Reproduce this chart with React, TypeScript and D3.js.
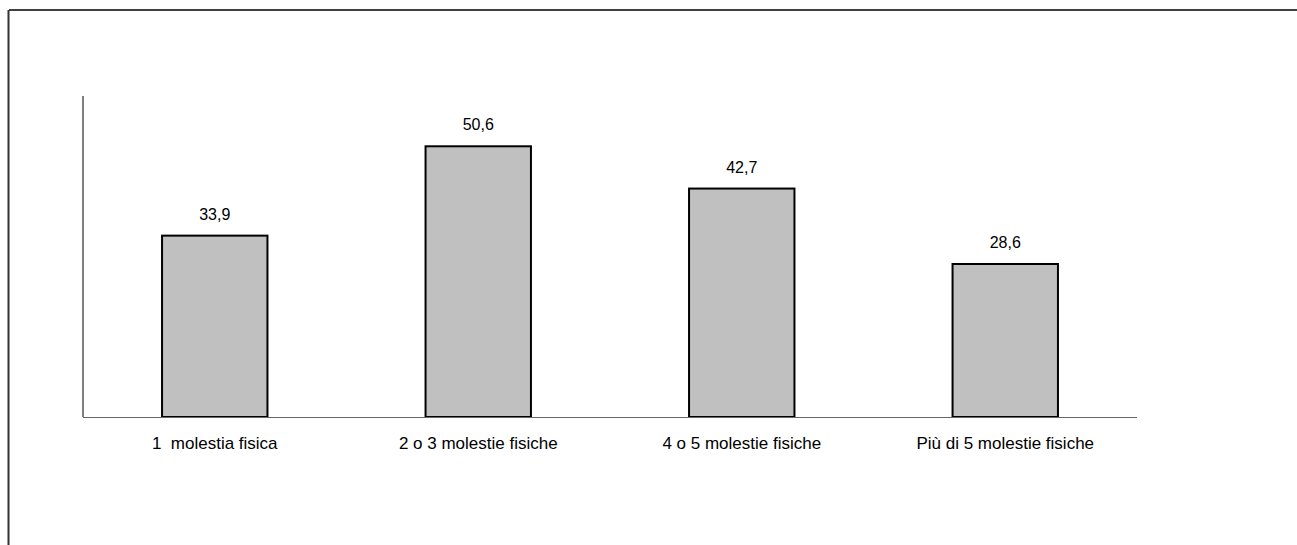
import React from "react";
import * as d3 from "d3";

const categories = ["1  molestia fisica", "2 o 3 molestie fisiche", "4 o 5 molestie fisiche", "Più di 5 molestie fisiche"];
const values = [33.9, 50.6, 42.7, 28.6];

export default function App() {
  const W = 1297, H = 545;
  const left = 83, right = 1137, top = 96, bottom = 417;
  const x = d3.scaleBand<string>().domain(categories).range([left, right]).paddingInner(0.6).paddingOuter(0.3);
  const y = d3.scaleLinear().domain([0, 60]).range([bottom, top]);
  const fmt = (v: number) => v.toFixed(1).replace(".", ",");
  return (
    <svg width={W} height={H} style={{ position: "absolute", left: 0, top: 0 }} fontFamily="Liberation Sans, Arial, sans-serif">
      <rect x={0} y={0} width={W} height={H} fill="#fff" />
      <line x1={9} y1={10} x2={W} y2={10} stroke="#000" strokeWidth={1.5} />
      <line x1={8.5} y1={10} x2={8.5} y2={H} stroke="#333" strokeWidth={2} />
      <line x1={left} y1={top} x2={left} y2={bottom} stroke="#000" strokeWidth={1} />
      {categories.map((c, i) => (
        <g key={c}>
          <rect x={x(c)!} y={y(values[i])} width={x.bandwidth()} height={bottom - y(values[i])} fill="#C0C0C0" stroke="#000" strokeWidth={2} />
          <text x={x(c)! + x.bandwidth() / 2} y={y(values[i]) - 16} textAnchor="middle" fontSize={16} fill="#000">{fmt(values[i])}</text>
          <text x={x(c)! + x.bandwidth() / 2} y={449} textAnchor="middle" fontSize={17} fill="#000" style={{ whiteSpace: "pre" }}>{c}</text>
        </g>
      ))}
      <line x1={left} y1={bottom + 0.5} x2={right} y2={bottom + 0.5} stroke="#666" strokeWidth={1} />
    </svg>
  );
}
